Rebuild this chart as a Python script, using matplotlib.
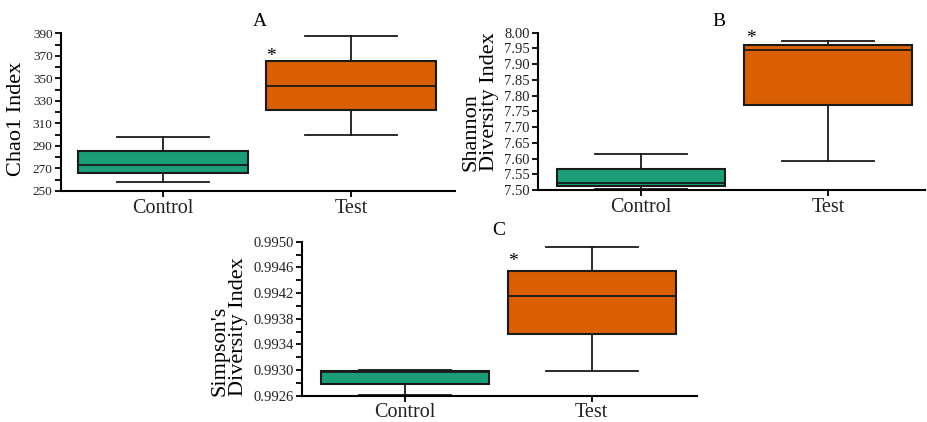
import matplotlib
matplotlib.use("Agg")
import matplotlib.pyplot as plt
from matplotlib.ticker import MultipleLocator, FixedLocator, FormatStrFormatter

plt.rcParams['font.family'] = ['Liberation Serif', 'DejaVu Serif']

groups = ["Control", "Test"]
colors = ["#1b9e77", "#d95f02"]

# box stats: lower whisker, Q1, median, Q3, upper whisker
chao1_low = [258.2, 299.7]
chao1_q1 = [265.7, 321.9]
chao1_med = [273.0, 343.5]
chao1_q3 = [285.5, 365.7]
chao1_high = [298.2, 387.6]
chao1_ticks = [250, 270, 290, 310, 330, 350, 370, 390]

shannon_low = [7.503, 7.592]
shannon_q1 = [7.514, 7.769]
shannon_med = [7.521, 7.945]
shannon_q3 = [7.566, 7.960]
shannon_high = [7.613, 7.974]
shannon_ticks = [7.50, 7.55, 7.60, 7.65, 7.70, 7.75, 7.80, 7.85, 7.90, 7.95, 8.00]

simpson_low = [0.99261, 0.99298]
simpson_q1 = [0.99279, 0.99357]
simpson_med = [0.99297, 0.99416]
simpson_q3 = [0.99298, 0.99455]
simpson_high = [0.99300, 0.99492]
simpson_ticks = [0.9926, 0.9930, 0.9934, 0.9938, 0.9942, 0.9946, 0.9950]

edge = "#1a1a1a"
tick_col = "#222222"


def draw_panel(ax, low, q1, med, q3, high, ysize):
    stats = []
    for i in range(len(groups)):
        stats.append(dict(whislo=low[i], q1=q1[i], med=med[i], q3=q3[i],
                          whishi=high[i], fliers=[]))
    bp = ax.bxp(stats, positions=[0, 1], widths=0.9, capwidths=0.49,
                patch_artist=True, showfliers=False,
                boxprops=dict(linewidth=1.5, edgecolor=edge),
                medianprops=dict(linewidth=1.3, color=edge),
                whiskerprops=dict(linewidth=1.3, color=edge),
                capprops=dict(linewidth=1.3, color=edge))
    for patch, c in zip(bp['boxes'], colors):
        patch.set_facecolor(c)
    ax.spines['top'].set_visible(False)
    ax.spines['right'].set_visible(False)
    ax.spines['left'].set_linewidth(1.5)
    ax.spines['bottom'].set_linewidth(1.5)
    ax.set_xticks([0, 1])
    ax.set_xticklabels(groups, fontsize=14.5, color=tick_col)
    ax.tick_params(axis='x', length=4, width=1.3, pad=1.5)
    ax.tick_params(axis='y', which='major', length=4, width=1.3, pad=2,
                   labelsize=ysize, labelcolor=tick_col)
    ax.tick_params(axis='y', which='minor', length=4, width=1.3)


fig = plt.figure(figsize=(9.27, 4.22), dpi=100)
axA = fig.add_axes([0.0658, 0.5474, 0.425, 0.3737])
axB = fig.add_axes([0.5804, 0.5498, 0.4174, 0.3727])
axC = fig.add_axes([0.3255, 0.062, 0.4261, 0.3653])

# A: Chao1
draw_panel(axA, chao1_low, chao1_q1, chao1_med, chao1_q3, chao1_high, 9.5)
axA.set_xlim(-0.543, 1.553)
axA.set_ylim(chao1_ticks[0], chao1_ticks[-1])
axA.yaxis.set_major_locator(FixedLocator(chao1_ticks))
axA.yaxis.set_minor_locator(MultipleLocator(10))
axA.text(-0.112, 0.46, "Chao1 Index", transform=axA.transAxes, rotation=90,
         ha='center', va='center', fontsize=16)
axA.text(0.505, 1.072, "A", transform=axA.transAxes, ha='center', va='center', fontsize=14)
axA.text(0.532, 0.852, "*", transform=axA.transAxes, ha='center', va='center', fontsize=14)

# B: Shannon
draw_panel(axB, shannon_low, shannon_q1, shannon_med, shannon_q3, shannon_high, 10.5)
axB.set_xlim(-0.551, 1.519)
axB.set_ylim(shannon_ticks[0], shannon_ticks[-1])
axB.yaxis.set_major_locator(FixedLocator(shannon_ticks))
axB.yaxis.set_major_formatter(FormatStrFormatter('%.2f'))
axB.text(-0.150, 0.56, "Shannon\nDiversity Index", transform=axB.transAxes, rotation=90,
         ha='center', va='center', multialignment='left', fontsize=16, linespacing=0.95)
axB.text(0.468, 1.074, "B", transform=axB.transAxes, ha='center', va='center', fontsize=14)
axB.text(0.550, 0.962, "*", transform=axB.transAxes, ha='center', va='center', fontsize=14)

# C: Simpson
draw_panel(axC, simpson_low, simpson_q1, simpson_med, simpson_q3, simpson_high, 10.5)
axC.set_xlim(-0.553, 1.562)
axC.set_ylim(simpson_ticks[0], simpson_ticks[-1])
axC.yaxis.set_major_locator(FixedLocator(simpson_ticks))
axC.yaxis.set_minor_locator(MultipleLocator(0.0002))
axC.yaxis.set_major_formatter(FormatStrFormatter('%.4f'))
axC.text(-0.184, 0.452, "Simpson's\nDiversity Index", transform=axC.transAxes, rotation=90,
         ha='center', va='center', multialignment='left', fontsize=16, linespacing=0.95)
axC.text(0.499, 1.075, "C", transform=axC.transAxes, ha='center', va='center', fontsize=14)
axC.text(0.535, 0.872, "*", transform=axC.transAxes, ha='center', va='center', fontsize=14)

fig.savefig("out.png", dpi=100)
